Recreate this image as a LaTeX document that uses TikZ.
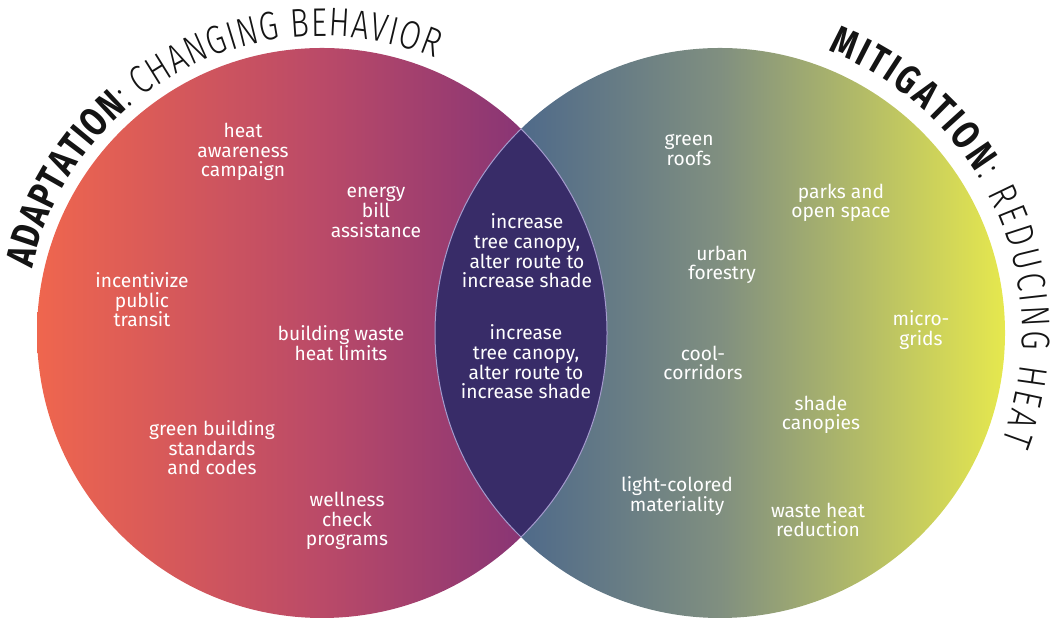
\documentclass[tikz,border=0pt]{standalone}
\usepackage{fontspec}
\setmainfont{Fira Sans}
\newfontfamily\arclight[FakeStretch=0.78]{Fira Sans Light}
\newfontfamily\arcbold[FakeStretch=0.78]{Fira Sans Bold}
\usetikzlibrary{decorations.text}
\definecolor{adaptLeft}{RGB}{239, 102, 78}
\definecolor{adaptMid}{RGB}{186, 74, 104}
\definecolor{adaptRight}{RGB}{116, 44, 122}
\definecolor{lensColor}{RGB}{56, 44, 104}
\definecolor{lensEdge}{RGB}{165, 155, 205}
\definecolor{mitLeft}{RGB}{58, 90, 142}
\definecolor{mitMid}{RGB}{128, 143, 128}
\definecolor{mitRight}{RGB}{230, 232, 78}
\definecolor{titleColor}{RGB}{20, 20, 20}

\begin{document}
\begin{tikzpicture}[x=0.5pt, y=0.5pt,
    item/.style={text=white, font=\fontsize{9.6}{9.8}\selectfont, align=center, inner sep=0pt},
    arctitle/.style={decorate, decoration={text along path, text align=fit to path, text color=titleColor}},
    lensline/.style={draw=lensEdge, line width=0.5pt}
]
    \useasboundingbox (0,0) rectangle (1053,635);

    \shade[left color=adaptLeft, right color=adaptRight, middle color=adaptMid] (322,302) circle[radius=285];
    \shade[left color=mitLeft, right color=mitRight, middle color=mitMid] (720,302) circle[radius=285];
    \begin{scope}
        \clip (322,302) circle[radius=285];
        \fill[lensColor] (720,302) circle[radius=285];
        \draw[lensline] (720,302) circle[radius=285];
    \end{scope}
    \begin{scope}
        \clip (720,302) circle[radius=285];
        \draw[lensline] (322,302) circle[radius=285];
    \end{scope}

    \path[arctitle, decoration={text={|\arcbold\fontsize{20}{20}\selectfont|ADAPTATION|\arclight\fontsize{20}{20}\selectfont|: CHANGING BEHAVIOR}}]
        (322,302) ++(167.4:297) arc[start angle=167.4, end angle=67.6, radius=297];
    \path[arctitle, decoration={text={|\arcbold\fontsize{20}{20}\selectfont|MITIGATION|\arclight\fontsize{20}{20}\selectfont|: REDUCING HEAT}}]
        (720,302) ++(69:302) arc[start angle=69, end angle=-21.1, radius=302];

    \node[item] (heat) at (243,483) {heat\\awareness\\campaign};
    \node[item] (energy) at (376,423) {energy\\bill\\assistance};
    \node[item] (transit) at (142,335) {incentivize\\public\\transit};
    \node[item] (limits) at (341,292) {building waste\\heat limits};
    \node[item] (codes) at (212,187) {green building\\standards\\and codes};
    \node[item] (wellness) at (347,114) {wellness\\check\\programs};

    \node[item] (shadeA) at (527,384) {increase\\tree canopy,\\alter route to\\increase shade};
    \node[item] (shadeB) at (526,273) {increase\\tree canopy,\\alter route to\\increase shade};

    \node[item] (roofs) at (689,485) {green\\roofs};
    \node[item] (parks) at (841,432) {parks and\\open space};
    \node[item] (forestry) at (722,370) {urban\\forestry};
    \node[item] (grids) at (921,305) {micro-\\grids};
    \node[item] (corridors) at (703,272) {cool-\\corridors};
    \node[item] (canopies) at (821,220) {shade\\canopies};
    \node[item] (materiality) at (677,139) {light-colored\\materiality};
    \node[item] (reduction) at (818,115) {waste heat\\reduction};
\end{tikzpicture}
\end{document}
